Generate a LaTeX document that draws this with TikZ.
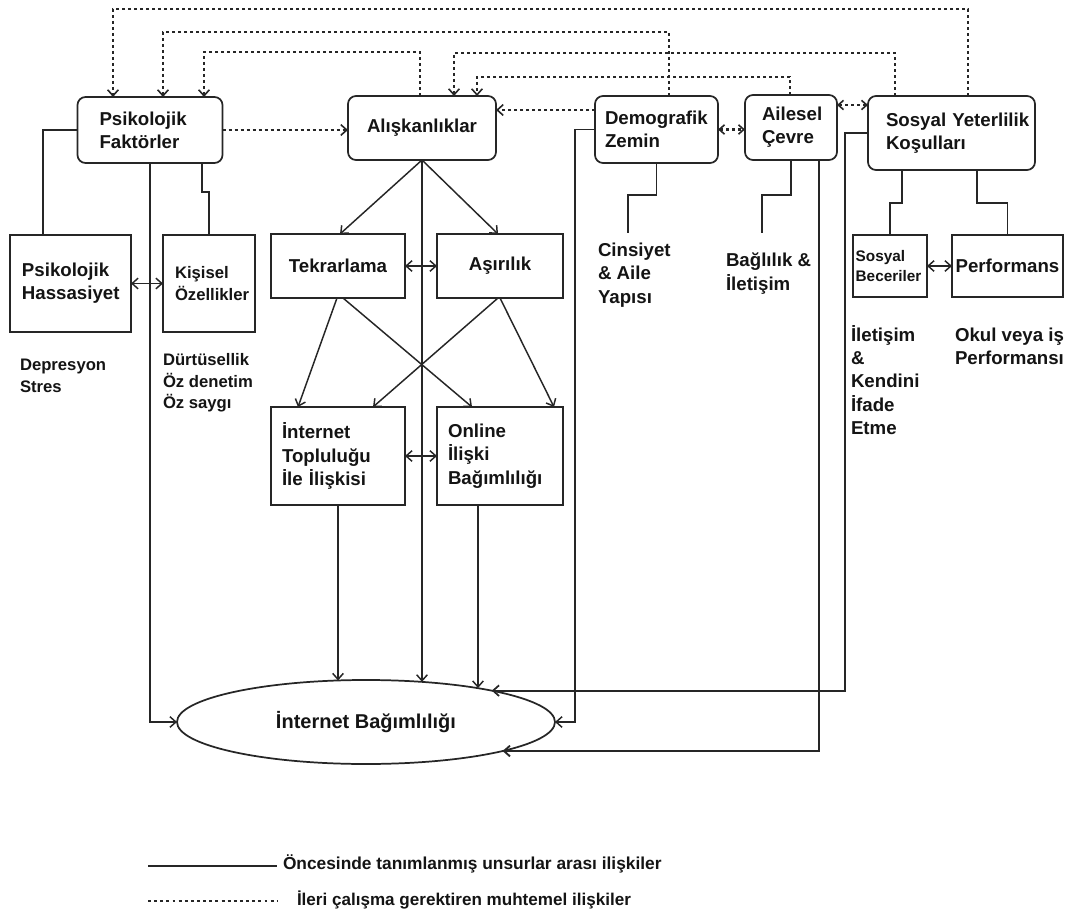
\documentclass[tikz,border=0pt]{standalone}
\usepackage{fontspec}
\setmainfont{Liberation Sans}
\usetikzlibrary{arrows.meta,calc,shapes.geometric}
\newcommand{\myin}[1]{\hspace*{#1}}
\tikzset{
 conn/.style={line width=1.1pt, draw=black!85},
 arr/.style={conn, -{Straight Barb[length=4.5pt,width=8pt]}},
 barr/.style={conn, {Straight Barb[length=4.5pt,width=8pt]}-{Straight Barb[length=4.5pt,width=8pt]}},
 dots/.style={line width=2pt, draw=black!85, dash pattern=on 2.6pt off 1.9pt},
 darr/.style={dots, -{Straight Barb[length=4.5pt,width=8pt,line width=1.2pt]}},
 dbarr/.style={dots, {Straight Barb[length=4pt,width=7pt,line width=1.2pt]}-{Straight Barb[length=4pt,width=7pt,line width=1.2pt]}},
 box/.style={draw=black!85, line width=1.3pt, fill=white, inner sep=0pt, outer sep=0pt},
 rbox/.style={box, rounded corners=6pt},
 lab/.style={anchor=west, align=left, inner sep=0pt},
 smallf/.style={font=\bfseries\fontsize{12.5}{16}\selectfont},
}
\begin{document}
\begin{tikzpicture}[x=0.75pt,y=-0.75pt,
  font=\bfseries\fontsize{14}{17.5}\selectfont,
  every node/.style={text=black!92, inner sep=0pt, outer sep=0pt}]
\useasboundingbox (0,0) rectangle (1067,916);
\fill[white] (0,0) rectangle (1067,916);

% top row
\node[rbox, text width=108.75pt, minimum height=49.5pt, align=left] (PF) at (150,130) {\myin{16.5pt}Psikolojik\\\myin{16.5pt}Faktörler};
\node[rbox, minimum width=111pt, minimum height=48pt] (AL) at (422,128) {Alışkanlıklar};
\node[rbox, text width=92.25pt, minimum height=50.25pt, align=left] (DZ) at (656.5,129.5) {\myin{7.5pt}Demografik\\\myin{7.5pt}Zemin};
\node[rbox, text width=69pt, minimum height=48.75pt, align=left] (AC) at (791,127.5) {\myin{12.75pt}Ailesel\\\myin{12.75pt}Çevre};
\node[rbox, text width=125.25pt, minimum height=55.5pt, align=left] (SY) at (951.5,133) {\myin{13.5pt}\mbox{Sosyal Yeterlilik}\\\myin{13.5pt}Koşulları};

% second row
\node[box, text width=90.75pt, minimum height=72.75pt, align=left] (PH) at (70.5,283.5) {\myin{9pt}Psikolojik\\\myin{9pt}Hassasiyet};
\node[box, text width=69pt, minimum height=72.75pt, align=left, font=\bfseries\fontsize{12.5}{16}\selectfont] (KO) at (209,283.5) {\myin{9pt}Kişisel\\\myin{9pt}Özellikler};
\node[box, minimum width=100.5pt, minimum height=48pt] (TK) at (338,266) {Tekrarlama};
\node[box, minimum width=94.5pt, minimum height=48pt] (AS) at (500,266) {Aşırılık};
\node[box, text width=55.5pt, minimum height=46.5pt, align=left, font=\bfseries\fontsize{11.5}{15}\selectfont] (SB) at (890,266) {\myin{2pt}Sosyal\\\myin{2pt}Beceriler};
\node[box, minimum width=83.25pt, minimum height=46.5pt] (PE) at (1007.5,266) {Performans};

% third row
\node[box, text width=100.5pt, minimum height=73.5pt, align=left] (IT) at (338,456) {\myin{8.25pt}İnternet\\\myin{8.25pt}Topluluğu\\\myin{8.25pt}\mbox{İle İlişkisi}};
\node[box, text width=94.5pt, minimum height=73.5pt, align=left] (OI) at (500,456) {\myin{8.25pt}Online\\\myin{8.25pt}İlişki\\\myin{8.25pt}Bağımlılığı};

% ellipse
\node[ellipse, draw=black!85, line width=1.3pt, fill=white, minimum width=283.5pt, minimum height=63pt, inner sep=0pt, font=\bfseries\fontsize{15}{18}\selectfont] (IB) at (366,722) {İnternet Bağımlılığı};

% free labels
\node[lab, smallf] (DS) at (20,376) {Depresyon\\Stres};
\node[lab, smallf] (DT) at (163,383) {Dürtüsellik\\Öz denetim\\Öz saygı};
\node[lab] (CY) at (598,275) {Cinsiyet\\\& Aile\\Yapısı};
\node[lab] (BI) at (726,273.5) {Bağlılık \&\\İletişim};
\node[lab] (IK) at (851,380) {İletişim\\\&\\Kendini\\İfade\\Etme};
\node[lab] (OP) at (955,346) {Okul veya iş\\Performansı};

% solid connectors
\draw[conn] (PF.west) -| ($(PH.north)+(-27.5,0)$);
\draw[arr] (PF.south) |- (IB.west);
\draw[conn] ($(PF.south)+(52,0)$) |- ($(KO.north)+(0,-43)$) -- (KO.north);
\draw[barr] (PH.east) -- (KO.west);
\draw[arr] (AL.south) -- ($(TK.north)+(2,0)$);
\draw[arr] (AL.south) -- ($(AS.north)+(-2,0)$);
\draw[arr] (AL.south) -- (AL.south |- IB.36);
\draw[barr] (TK.east) -- (AS.west);
\draw[arr] ($(TK.south)+(-1,0)$) -- ($(IT.north)+(-40,0)$);
\draw[arr] ($(TK.south)+(5,0)$) -- ($(OI.north)+(-28,0)$);
\draw[arr] ($(AS.south)+(-2,0)$) -- ($(IT.north)+(35,0)$);
\draw[arr] (AS.south) -- ($(OI.north)+(54,0)$);
\draw[barr] (IT.east) -- (OI.west);
\draw[arr] (IT.south) -- (IT.south |- IB.124);
\coordinate (oib) at ($(OI.south)+(-22,0)$);
\draw[arr] (oib) -- (oib |- IB.17);
\draw[arr] (DZ.west) -- ++(-20,0) |- (IB.east);
\coordinate (cyT) at (628,233);
\coordinate (biT) at (762,233);
\draw[conn] (DZ.south) -- ++(0,32) -| (cyT);
\draw[conn] (AC.south) -- ++(0,35) -| (biT);
\draw[arr, line width=1.4pt] ($(AC.south)+(28,0)$) |- (IB.348);
\draw[arr, line width=1.3pt] (SY.west) -- ++(-23,0) |- (IB.14);
\draw[conn] ($(SY.south)+(-49.5,0)$) |- ($(SB.north)+(0,-32)$) -- (SB.north);
\draw[conn] ($(SY.south)+(25.5,0)$) |- ($(PE.north)+(0,-32)$) -- (PE.north);
\draw[barr] (SB.east) -- (PE.west);

% dotted connectors
\draw[darr] ($(SY.north)+(16.5,0)$) -- ++(0,-87) -| ($(PF.north)+(-37,0)$);
\draw[darr] ($(DZ.north)+(12.5,0)$) -- ++(0,-64) -| ($(PF.north)+(13,0)$);
\draw[darr] ($(AL.north)+(-2,0)$) -- ++(0,-44) -| ($(PF.north)+(54,0)$);
\draw[darr] ($(SY.north)+(-56.5,0)$) -- ++(0,-43) -| ($(AL.north)+(32,0)$);
\draw[darr] ($(AC.north)+(-1,0)$) -- ++(0,-18) -| ($(AL.north)+(55,0)$);
\draw[darr] ($(DZ.west)+(0,-19.5)$) -- ($(AL.east)+(0,-18)$);
\draw[darr] (PF.east) -- (PF.east -| AL.west);
\draw[dbarr] (DZ.east) -- (DZ.east -| AC.west);
\coordinate (acs) at ($(AC.east)+(0,-22.5)$);
\draw[dbarr] (acs) -- (acs -| SY.west);

% legend
\node[lab, font=\bfseries\fontsize{13}{15}\selectfont] (L1) at (283,864) {Öncesinde tanımlanmış unsurlar arası ilişkiler};
\node[lab, font=\bfseries\fontsize{12.8}{15}\selectfont] (L2) at (297,900) {İleri çalışma gerektiren muhtemel ilişkiler};
\coordinate (s1) at (148,866);
\coordinate (t1) at (148,901);
\draw[line width=1pt, draw=black!85] (s1) -- ($(L1.west)+(-6,2)$);
\draw[line width=1.3pt, draw=black!85, dash pattern=on 2.2pt off 2.4pt] (t1) -- ($(L2.west)+(-20,1)$);
\end{tikzpicture}
\end{document}
